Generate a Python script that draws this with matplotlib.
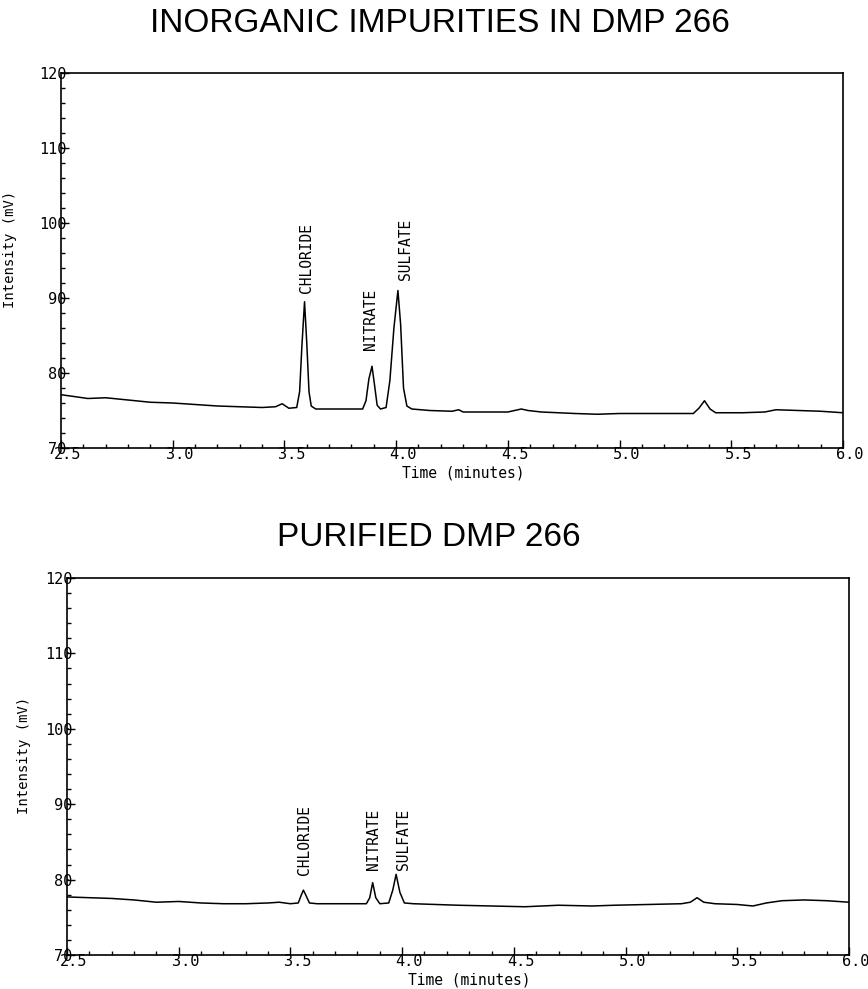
import numpy as np
import matplotlib
matplotlib.use("Agg")
import matplotlib.pyplot as plt
from matplotlib.ticker import MultipleLocator
from matplotlib.transforms import ScaledTranslation

# ---- chromatogram traces (time in min, intensity in mV) ----
raw_time = [2.50, 2.55, 2.62, 2.70, 2.80, 2.90, 3.00, 3.10, 3.20, 3.30, 3.40, 3.46,
            3.49, 3.52, 3.555, 3.568, 3.578, 3.59, 3.60, 3.61, 3.62, 3.64, 3.75, 3.85,
            3.865, 3.878, 3.892, 3.905, 3.915, 3.93, 3.955, 3.972, 3.99, 4.008, 4.02,
            4.033, 4.048, 4.07, 4.15, 4.25, 4.28, 4.30, 4.40, 4.50, 4.56, 4.59, 4.65,
            4.80, 4.90, 5.00, 5.20, 5.33, 5.355, 5.38, 5.405, 5.43, 5.55, 5.65, 5.70,
            5.80, 5.90, 6.00]
raw_mv = [77.1, 76.9, 76.6, 76.7, 76.4, 76.1, 76.0, 75.8, 75.6, 75.5, 75.4, 75.5,
          75.9, 75.3, 75.4, 77.5, 83.5, 89.5, 84.0, 77.5, 75.6, 75.2, 75.2, 75.2,
          76.3, 79.2, 80.9, 78.0, 75.7, 75.2, 75.4, 79.0, 86.0, 91.0, 86.5,
          78.0, 75.6, 75.2, 75.0, 74.9, 75.1, 74.8, 74.8, 74.8, 75.2, 75.0, 74.8,
          74.6, 74.5, 74.6, 74.6, 74.6, 75.3, 76.3, 75.2, 74.7, 74.7, 74.8, 75.1,
          75.0, 74.9, 74.7]

pur_time = [2.50, 2.60, 2.70, 2.80, 2.90, 3.00, 3.10, 3.20, 3.30, 3.40, 3.45, 3.50,
            3.535, 3.548, 3.558, 3.568, 3.585, 3.62, 3.75, 3.84, 3.855, 3.868, 3.882,
            3.90, 3.94, 3.958, 3.973, 3.99, 4.01, 4.05, 4.15, 4.25, 4.40, 4.55, 4.70,
            4.85, 4.95, 5.10, 5.25, 5.29, 5.32, 5.35, 5.40, 5.50, 5.57, 5.63, 5.70,
            5.80, 5.90, 6.00]
pur_mv = [77.7, 77.6, 77.5, 77.3, 77.0, 77.1, 76.9, 76.8, 76.8, 76.9, 77.0, 76.8,
          76.9, 77.9, 78.6, 78.0, 76.9, 76.8, 76.8, 76.8, 77.6, 79.6, 77.6,
          76.8, 76.9, 78.6, 80.7, 78.3, 76.9, 76.8, 76.7, 76.6, 76.5, 76.4, 76.6,
          76.5, 76.6, 76.7, 76.8, 77.0, 77.6, 77.0, 76.8, 76.7, 76.5, 76.9, 77.2,
          77.3, 77.2, 77.0]

ion_names = ["CHLORIDE", "NITRATE", "SULFATE"]
# label anchor (time, mV) = bottom of each vertical label
raw_label_pos = [(3.600, 90.7), (3.886, 83.1), (4.044, 92.4)]
pur_label_pos = [(3.565, 80.6), (3.874, 81.3), (4.005, 81.3)]

titles = ["INORGANIC IMPURITIES IN DMP 266", "PURIFIED DMP 266"]
x_ticks = [2.5, 3.0, 3.5, 4.0, 4.5, 5.0, 5.5, 6.0]
y_ticks = [70, 80, 90, 100, 110, 120]

PLOT_FONT = "DejaVu Sans Mono"

fig = plt.figure(figsize=(8.68, 9.89), dpi=100)

# axes boxes in pixels: (left, top, right, bottom)
boxes = [(61, 73, 843, 448), (67, 578, 849, 955)]
title_xy = [(440, 23), (429, 537)]
ylabel_x = [-0.065, -0.055]

panels = [(raw_time, raw_mv, raw_label_pos), (pur_time, pur_mv, pur_label_pos)]

W, H = 868, 989
for i, (t, mv, lab_pos) in enumerate(panels):
    l, tp, r, b = boxes[i]
    ax = fig.add_axes([l / W, 1 - b / H, (r - l) / W, (b - tp) / H])
    ax.plot(t, mv, color="black", lw=1.1)

    ax.set_xlim(2.5, 6.0)
    ax.set_ylim(70, 120)
    ax.set_xticks(x_ticks)
    ax.set_yticks(y_ticks)
    ax.xaxis.set_minor_locator(MultipleLocator(0.1))
    ax.yaxis.set_minor_locator(MultipleLocator(2))
    ax.set_xticklabels([f"{v:.1f}" for v in x_ticks], fontsize=11, family=PLOT_FONT)
    ax.set_yticklabels([str(v) for v in y_ticks], fontsize=11, family=PLOT_FONT)

    ax.tick_params(which="both", direction="in", top=False, right=False, width=1.0)
    ax.tick_params(which="major", length=6)
    ax.tick_params(which="minor", length=3)
    ax.tick_params(axis="x", which="major", pad=-1)
    ax.tick_params(axis="y", which="major", pad=-4)
    for sp in ax.spines.values():
        sp.set_linewidth(1.2)

    # plotter labels sit a bit right of their ticks
    shift = ScaledTranslation(7 / 100, 0, fig.dpi_scale_trans)
    for lbl in ax.get_xticklabels():
        lbl.set_transform(lbl.get_transform() + shift)

    ax.set_xlabel("Time (minutes)", fontsize=10.5, family=PLOT_FONT)
    ax.xaxis.set_label_coords(0.515, -25 / (b - tp))
    ax.xaxis.label.set_va("center")
    ax.set_ylabel("Intensity (mV)", fontsize=10, family=PLOT_FONT)
    ax.yaxis.set_label_coords(ylabel_x[i], 0.53)
    ax.yaxis.label.set_va("center")

    for name, (x, y) in zip(ion_names, lab_pos):
        ax.text(x, y, name, rotation=90, ha="center", va="bottom",
                fontsize=10.5, family=PLOT_FONT)

    tx, ty = title_xy[i]
    fig.text(tx / W, 1 - ty / H, titles[i], ha="center", va="center",
             fontsize=24, family="Liberation Sans")

fig.savefig("out.png", dpi=100)
